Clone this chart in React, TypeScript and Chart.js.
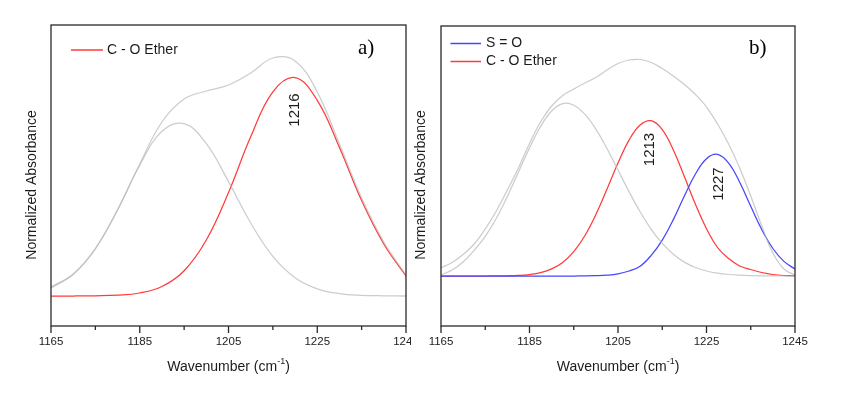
import React, { useEffect, useRef } from "react";
import { Chart, registerables } from "chart.js";

Chart.register(...registerables);

// ---------- data (heights above baseline) ----------
const wavenumberA = [1165, 1170, 1175, 1180, 1185, 1190, 1195, 1200, 1205, 1210, 1215, 1220, 1225, 1230, 1235, 1240, 1245];
const coEtherA = [0, 0, 0.2, 0.8, 3, 9.5, 25.3, 56, 103.4, 159.2, 204.1, 218.3, 195.7, 148.6, 95.4, 52, 20];
const componentA = [8.1, 21.5, 47.2, 86.3, 130.8, 164.7, 172.3, 152.3, 114.4, 73, 39.6, 18.3, 7.2, 2.4, 0.7, 0.2, 0];
const envelopeA = [9, 22, 47.5, 86, 132, 174, 197, 205, 211, 223, 238, 235, 204, 152, 98, 54, 21];

const wavenumberB = [
  1165, 1167.5, 1170, 1172.5, 1175, 1177.5, 1180, 1182.5, 1185, 1187.5, 1190, 1192.5, 1195, 1197.5, 1200, 1202.5,
  1205, 1207.5, 1210, 1212.5, 1215, 1217.5, 1220, 1222.5, 1225, 1227.5, 1230, 1232.5, 1235, 1237.5, 1240, 1242.5, 1245,
];
const soB = [
  0, 0, 0, 0, 0, 0, 0, 0, 0, 0, 0, 0, 0, 0.05, 0.27, 0.8, 2.1, 5.0, 9.8, 20.6, 35.9, 56.4, 80.0, 102.0, 117.3, 121.6,
  112.9, 93.8, 69.7, 46.3, 27.5, 14.6, 7.0,
];
const coEtherB = [
  0, 0, 0, 0, 0, 0.08, 0.23, 0.61, 1.49, 3.37, 7.06, 13.6, 24.4, 40.3, 61.5, 86.7, 112.9, 135.9, 151.0, 155.3, 146.3,
  126.1, 99.4, 71.7, 47.3, 28.5, 17.5, 10, 6.5, 3.5, 1.5, 0.5, 0.2,
];
const componentB = [
  1, 6, 14, 25.7, 39.6, 57.7, 79.6, 103.8, 128.1, 149.5, 165.0, 172.4, 170.8, 161.8, 146.8, 127.5, 106.0, 84.3, 64.2,
  46.7, 32.6, 21.8, 13.9, 8.5, 5.0, 2.8, 1.5, 0.8, 0.4, 0.2, 0.1, 0, 0,
];
const envelopeB = [
  8.3, 13.5, 21.5, 32, 47, 65, 86, 108, 132.5, 154, 170, 180.5, 187, 193, 198.5, 206, 212.5, 216, 216.5, 213.5, 207.5,
  200, 191.5, 181.5, 169, 152, 132, 108, 80, 50, 23, 7, 1,
];

const majorTicks = [1165, 1185, 1205, 1225, 1245];
const minorTicks = [1175, 1195, 1215, 1235];

const peakLabelsA = ["1216"];
const peakXA = [1220];
const peakYA = [186];
const peakLabelsB = ["1213", "1227"];
const peakXB = [1212.2, 1227.7];
const peakYB = [126.5, 92];

// ---------- styles ----------
const FONT = '"Liberation Sans", Arial, Helvetica, sans-serif';
const SERIF = '"Liberation Serif", "Times New Roman", Times, serif';
const RED = "#ff3b3b";
const BLUE = "#4646ff";
const GREY = "rgba(184,184,184,0.72)";
const INK = "#1c1c1c";

type Decor = {
  key: string;
  yTitleX: number;
  panel: string;
  panelX: number;
  legend: { label: string; color: string; y: number }[];
  legendX0: number;
  legendX1: number;
  legendTextX: number;
  peaks: string[];
  peakX: number[];
  peakY: number[];
};

function makeDecor(o: Decor) {
  return {
    id: "decor" + o.key,
    afterDraw(chart: any) {
      const ctx: CanvasRenderingContext2D = chart.ctx;
      const { left, right, top, bottom } = chart.chartArea;
      const xs = chart.scales.x;
      const ys = chart.scales.y;
      ctx.save();
      // frame
      ctx.strokeStyle = "#2a2a2a";
      ctx.lineWidth = 1.3;
      ctx.strokeRect(left, top, right - left, bottom - top);
      // tick marks
      ctx.beginPath();
      for (const v of majorTicks) {
        const x = xs.getPixelForValue(v);
        ctx.moveTo(x, bottom);
        ctx.lineTo(x, bottom + 7);
      }
      for (const v of minorTicks) {
        const x = xs.getPixelForValue(v);
        ctx.moveTo(x, bottom);
        ctx.lineTo(x, bottom + 4);
      }
      ctx.stroke();

      ctx.fillStyle = INK;
      // y title
      ctx.save();
      ctx.translate(o.yTitleX, 185);
      ctx.rotate(-Math.PI / 2);
      ctx.font = `14px ${FONT}`;
      ctx.textAlign = "center";
      ctx.textBaseline = "middle";
      ctx.fillText("Normalized Absorbance", 0, 0);
      ctx.restore();

      // x title with superscript
      const main1 = "Wavenumber (cm";
      const sup = "-1";
      const main2 = ")";
      ctx.textBaseline = "middle";
      ctx.textAlign = "left";
      ctx.font = `14px ${FONT}`;
      const w1 = ctx.measureText(main1).width;
      const w3 = ctx.measureText(main2).width;
      ctx.font = `9px ${FONT}`;
      const w2 = ctx.measureText(sup).width;
      const cx = (left + right) / 2;
      const x0 = cx - (w1 + w2 + w3) / 2;
      const ty = 366.7;
      ctx.font = `14px ${FONT}`;
      ctx.fillText(main1, x0, ty);
      ctx.font = `9px ${FONT}`;
      ctx.fillText(sup, x0 + w1, ty - 5.5);
      ctx.font = `14px ${FONT}`;
      ctx.fillText(main2, x0 + w1 + w2, ty);

      // legend
      ctx.lineWidth = 1.5;
      for (const it of o.legend) {
        ctx.strokeStyle = it.color;
        ctx.beginPath();
        ctx.moveTo(o.legendX0, it.y);
        ctx.lineTo(o.legendX1, it.y);
        ctx.stroke();
        ctx.fillStyle = INK;
        ctx.font = `14px ${FONT}`;
        ctx.textBaseline = "middle";
        ctx.fillText(it.label, o.legendTextX, it.y);
      }

      // panel letter
      ctx.font = `21px ${SERIF}`;
      ctx.textBaseline = "alphabetic";
      ctx.fillStyle = "#000";
      ctx.fillText(o.panel, o.panelX, 53.5);

      // peak labels
      ctx.font = `15px ${FONT}`;
      ctx.fillStyle = INK;
      o.peaks.forEach((p, i) => {
        const px = xs.getPixelForValue(o.peakX[i]);
        const py = ys.getPixelForValue(o.peakY[i]);
        ctx.save();
        ctx.translate(px, py);
        ctx.rotate(-Math.PI / 2);
        ctx.textAlign = "center";
        ctx.textBaseline = "middle";
        ctx.fillText(p, 0, 0);
        ctx.restore();
      });
      ctx.restore();
    },
  };
}

function line(label: string, xs: number[], ys: number[], color: string, order: number) {
  return {
    label,
    data: xs.map((x, i) => ({ x, y: ys[i] })),
    borderColor: color,
    borderWidth: 1.25,
    pointRadius: 0,
    fill: false,
    tension: 0.4,
    order,
  };
}

function config(datasets: any[], pad: any, yMin: number, yMax: number, decor: Decor) {
  return {
    type: "line" as const,
    data: { datasets },
    options: {
      animation: false as const,
      responsive: false,
      devicePixelRatio: 1,
      events: [] as any[],
      layout: { padding: pad },
      plugins: { legend: { display: false }, tooltip: { enabled: false } },
      scales: {
        x: {
          type: "linear" as const,
          min: 1165,
          max: 1245,
          grid: { display: false, drawTicks: false },
          border: { display: false },
          afterBuildTicks: (s: any) => {
            s.ticks = majorTicks.map((v) => ({ value: v }));
          },
          afterFit: (s: any) => {
            s.height = 72;
            s.paddingLeft = 0;
            s.paddingRight = 0;
          },
          ticks: {
            autoSkip: false,
            maxRotation: 0,
            padding: 9,
            color: "#222",
            font: { size: 11.5, family: FONT },
            callback: (v: any) => String(v),
          },
        },
        y: { display: false, min: yMin, max: yMax },
      },
    },
    plugins: [makeDecor(decor)],
  };
}

export default function App() {
  const refA = useRef<HTMLCanvasElement>(null);
  const refB = useRef<HTMLCanvasElement>(null);

  useEffect(() => {
    const a = new Chart(
      refA.current as HTMLCanvasElement,
      config(
        [
          line("C - O Ether", wavenumberA, coEtherA, RED, 1),
          line("fit", wavenumberA, componentA, GREY, 0),
          line("envelope", wavenumberA, envelopeA, GREY, 0),
        ],
        { left: 51, right: 5, top: 25, bottom: 0 },
        -30,
        271,
        {
          key: "a",
          yTitleX: 31.7,
          panel: "a)",
          panelX: 358,
          legend: [{ label: "C - O Ether", color: RED, y: 50 }],
          legendX0: 71,
          legendX1: 103,
          legendTextX: 107,
          peaks: peakLabelsA,
          peakX: peakXA,
          peakY: peakYA,
        }
      ) as any
    );
    const b = new Chart(
      refB.current as HTMLCanvasElement,
      config(
        [
          line("S = O", wavenumberB, soB, BLUE, 1),
          line("C - O Ether", wavenumberB, coEtherB, RED, 1),
          line("fit", wavenumberB, componentB, GREY, 0),
          line("envelope", wavenumberB, envelopeB, GREY, 0),
        ],
        { left: 30, right: 53, top: 26, bottom: 0 },
        -50,
        250,
        {
          key: "b",
          yTitleX: 10.5,
          panel: "b)",
          panelX: 338,
          legend: [
            { label: "S = O", color: BLUE, y: 43.5 },
            { label: "C - O Ether", color: RED, y: 61.5 },
          ],
          legendX0: 39.5,
          legendX1: 70,
          legendTextX: 75,
          peaks: peakLabelsB,
          peakX: peakXB,
          peakY: peakYB,
        }
      ) as any
    );
    return () => {
      a.destroy();
      b.destroy();
    };
  }, []);

  return (
    <div style={{ position: "absolute", left: 0, top: 0, width: 848, height: 398, background: "#fff", overflow: "hidden" }}>
      <canvas ref={refA} width={411} height={398} style={{ position: "absolute", left: 0, top: 0, display: "block" }} />
      <canvas ref={refB} width={437} height={398} style={{ position: "absolute", left: 411, top: 0, display: "block" }} />
    </div>
  );
}
